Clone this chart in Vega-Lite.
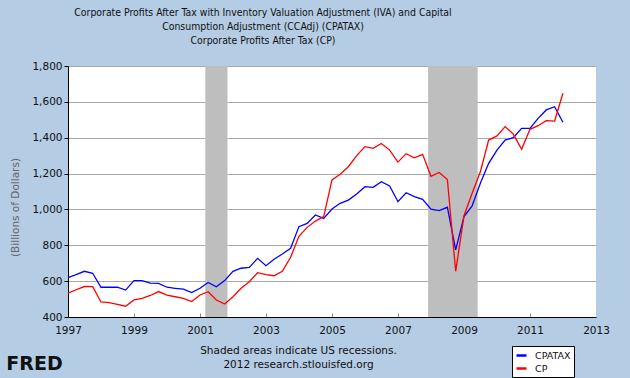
{
  "$schema": "https://vega.github.io/schema/vega-lite/v6.json",
  "width": 528,
  "height": 251,
  "autosize": {"type": "none"},
  "padding": {"left": 68, "top": 66, "right": 34, "bottom": 61},
  "background": "#b4cce4",
  "config": {"view": {"fill": "white", "stroke": null}, "font": "DejaVu Sans"},
  "title": {
    "text": ["Corporate Profits After Tax with Inventory Valuation Adjustment (IVA) and Capital", "Consumption Adjustment (CCAdj) (CPATAX)", "Corporate Profits After Tax (CP)"],
    "font": "DejaVu Sans Condensed",
    "fontSize": 10.4,
    "fontWeight": "normal",
    "color": "#111111",
    "anchor": "middle",
    "frame": "group",
    "dx": -69,
    "offset": 15,
    "lineHeight": 14
  },
  "datasets": {
    "recessions": [
      {"start": "2001-03-01", "end": "2001-11-01"},
      {"start": "2007-12-01", "end": "2009-06-01"}
    ],
    "profits": [
      {"date": "1997-01-01", "CPATAX": 620, "CP": 533},
      {"date": "1997-04-01", "CPATAX": 636, "CP": 552},
      {"date": "1997-07-01", "CPATAX": 655, "CP": 570},
      {"date": "1997-10-01", "CPATAX": 644, "CP": 569},
      {"date": "1998-01-01", "CPATAX": 566, "CP": 484},
      {"date": "1998-04-01", "CPATAX": 566, "CP": 480},
      {"date": "1998-07-01", "CPATAX": 566, "CP": 471},
      {"date": "1998-10-01", "CPATAX": 550, "CP": 460},
      {"date": "1999-01-01", "CPATAX": 603, "CP": 495},
      {"date": "1999-04-01", "CPATAX": 603, "CP": 504},
      {"date": "1999-07-01", "CPATAX": 589, "CP": 520},
      {"date": "1999-10-01", "CPATAX": 588, "CP": 542},
      {"date": "2000-01-01", "CPATAX": 566, "CP": 522},
      {"date": "2000-04-01", "CPATAX": 560, "CP": 513},
      {"date": "2000-07-01", "CPATAX": 555, "CP": 504},
      {"date": "2000-10-01", "CPATAX": 536, "CP": 486},
      {"date": "2001-01-01", "CPATAX": 560, "CP": 523},
      {"date": "2001-04-01", "CPATAX": 593, "CP": 541},
      {"date": "2001-07-01", "CPATAX": 569, "CP": 495},
      {"date": "2001-10-01", "CPATAX": 603, "CP": 472},
      {"date": "2002-01-01", "CPATAX": 655, "CP": 513},
      {"date": "2002-04-01", "CPATAX": 672, "CP": 560},
      {"date": "2002-07-01", "CPATAX": 677, "CP": 597},
      {"date": "2002-10-01", "CPATAX": 727, "CP": 647},
      {"date": "2003-01-01", "CPATAX": 686, "CP": 636},
      {"date": "2003-04-01", "CPATAX": 722, "CP": 630},
      {"date": "2003-07-01", "CPATAX": 751, "CP": 655},
      {"date": "2003-10-01", "CPATAX": 783, "CP": 733},
      {"date": "2004-01-01", "CPATAX": 904, "CP": 850},
      {"date": "2004-04-01", "CPATAX": 922, "CP": 900},
      {"date": "2004-07-01", "CPATAX": 969, "CP": 935},
      {"date": "2004-10-01", "CPATAX": 950, "CP": 960},
      {"date": "2005-01-01", "CPATAX": 1002, "CP": 1165},
      {"date": "2005-04-01", "CPATAX": 1034, "CP": 1196},
      {"date": "2005-07-01", "CPATAX": 1052, "CP": 1238},
      {"date": "2005-10-01", "CPATAX": 1086, "CP": 1300},
      {"date": "2006-01-01", "CPATAX": 1127, "CP": 1350},
      {"date": "2006-04-01", "CPATAX": 1123, "CP": 1341},
      {"date": "2006-07-01", "CPATAX": 1155, "CP": 1368},
      {"date": "2006-10-01", "CPATAX": 1131, "CP": 1331},
      {"date": "2007-01-01", "CPATAX": 1043, "CP": 1264},
      {"date": "2007-04-01", "CPATAX": 1093, "CP": 1311},
      {"date": "2007-07-01", "CPATAX": 1071, "CP": 1288},
      {"date": "2007-10-01", "CPATAX": 1056, "CP": 1307},
      {"date": "2008-01-01", "CPATAX": 1001, "CP": 1185},
      {"date": "2008-04-01", "CPATAX": 993, "CP": 1206},
      {"date": "2008-07-01", "CPATAX": 1012, "CP": 1167},
      {"date": "2008-10-01", "CPATAX": 774, "CP": 655},
      {"date": "2009-01-01", "CPATAX": 960, "CP": 965},
      {"date": "2009-04-01", "CPATAX": 1020, "CP": 1090},
      {"date": "2009-07-01", "CPATAX": 1146, "CP": 1210},
      {"date": "2009-10-01", "CPATAX": 1257, "CP": 1387},
      {"date": "2010-01-01", "CPATAX": 1331, "CP": 1410},
      {"date": "2010-04-01", "CPATAX": 1387, "CP": 1462},
      {"date": "2010-07-01", "CPATAX": 1400, "CP": 1420},
      {"date": "2010-10-01", "CPATAX": 1452, "CP": 1335},
      {"date": "2011-01-01", "CPATAX": 1452, "CP": 1447},
      {"date": "2011-04-01", "CPATAX": 1508, "CP": 1467},
      {"date": "2011-07-01", "CPATAX": 1555, "CP": 1495},
      {"date": "2011-10-01", "CPATAX": 1573, "CP": 1493},
      {"date": "2012-01-01", "CPATAX": 1486, "CP": 1648}
    ]
  },
  "layer": [
    {
      "data": {"name": "recessions"},
      "mark": {"type": "rect", "color": "#bebebe"},
      "encoding": {
        "x": {
          "field": "start",
          "type": "temporal",
          "scale": {"type": "utc", "domain": [{"year": 1997, "month": 1, "date": 1, "utc": true}, {"year": 2013, "month": 1, "date": 1, "utc": true}]},
          "axis": {
            "orient": "bottom",
            "labels": false,
            "domain": false,
            "grid": false,
            "ticks": true,
            "tickSize": -4,
            "tickColor": "#888888",
            "values": [
              {"year": 1999, "month": 1, "date": 1, "utc": true},
              {"year": 2001, "month": 1, "date": 1, "utc": true},
              {"year": 2003, "month": 1, "date": 1, "utc": true},
              {"year": 2005, "month": 1, "date": 1, "utc": true},
              {"year": 2007, "month": 1, "date": 1, "utc": true},
              {"year": 2009, "month": 1, "date": 1, "utc": true},
              {"year": 2011, "month": 1, "date": 1, "utc": true}
            ],
            "title": "FRED",
            "titleFont": "DejaVu Sans",
            "titleFontSize": 19,
            "titleFontWeight": "bold",
            "titleColor": "#111111",
            "titleX": -34,
            "titleY": 46,
            "titleAlign": "center",
            "titleBaseline": "middle",
            "titleAngle": 0
          }
        },
        "x2": {"field": "end"}
      }
    },
    {
      "data": {"name": "profits"},
      "transform": [{"fold": ["CPATAX", "CP"], "as": ["series", "value"]}],
      "mark": {"type": "line", "strokeWidth": 1.3, "interpolate": "linear"},
      "encoding": {
        "x": {
          "field": "date",
          "type": "temporal",
          "scale": {"type": "utc", "domain": [{"year": 1997, "month": 1, "date": 1, "utc": true}, {"year": 2013, "month": 1, "date": 1, "utc": true}]},
          "axis": {
            "orient": "bottom",
            "values": [
              {"year": 1997, "month": 1, "date": 1, "utc": true},
              {"year": 1999, "month": 1, "date": 1, "utc": true},
              {"year": 2001, "month": 1, "date": 1, "utc": true},
              {"year": 2003, "month": 1, "date": 1, "utc": true},
              {"year": 2005, "month": 1, "date": 1, "utc": true},
              {"year": 2007, "month": 1, "date": 1, "utc": true},
              {"year": 2009, "month": 1, "date": 1, "utc": true},
              {"year": 2011, "month": 1, "date": 1, "utc": true},
              {"year": 2013, "month": 1, "date": 1, "utc": true}
            ],
            "format": "%Y",
            "formatType": "utc",
            "labelFontSize": 10.5,
            "labelColor": "#111111",
            "labelPadding": 8,
            "labelFlush": false,
            "labelOverlap": false,
            "ticks": false,
            "grid": false,
            "domainColor": "#000000",
            "domainWidth": 1,
            "title": ["Shaded areas indicate US recessions.", "2012 research.stlouisfed.org"],
            "titleFontSize": 10.5,
            "titleFontWeight": "normal",
            "titleColor": "#111111",
            "titleX": 230,
            "titleY": 28,
            "titleAlign": "center",
            "titleBaseline": "top",
            "titleLineHeight": 14
          }
        },
        "y": {
          "field": "value",
          "type": "quantitative",
          "scale": {"domain": [400, 1800], "nice": false, "zero": false},
          "axis": {
            "values": [400, 600, 800, 1000, 1200, 1400, 1600, 1800],
            "format": ",.0f",
            "tickSize": 4,
            "tickColor": "#000000",
            "domainColor": "#000000",
            "gridColor": "#aaaaaa",
            "gridOpacity": 1,
            "labelFontSize": 10.5,
            "labelColor": "#111111",
            "labelPadding": 2,
            "title": "(Billions of Dollars)",
            "titleColor": "#666666",
            "titleFontSize": 10.5,
            "titleFontWeight": "normal",
            "titleX": -53,
            "titleY": 141,
            "titleAlign": "center",
            "titleBaseline": "middle"
          }
        },
        "color": {
          "field": "series",
          "type": "nominal",
          "sort": ["CPATAX", "CP"],
          "scale": {"domain": ["CPATAX", "CP"], "range": ["#0000ff", "#ff0000"]},
          "legend": {
            "orient": "none",
            "legendX": 444,
            "legendY": 280,
            "direction": "vertical",
            "title": null,
            "fillColor": "white",
            "strokeColor": "#000000",
            "padding": 3,
            "rowPadding": 1,
            "symbolType": "stroke",
            "symbolStrokeWidth": 2.5,
            "symbolSize": 100,
            "labelFontSize": 9.5,
            "labelColor": "#111111",
            "labelOffset": 7
          }
        }
      }
    }
  ],
  "resolve": {"axis": {"x": "independent"}}
}
